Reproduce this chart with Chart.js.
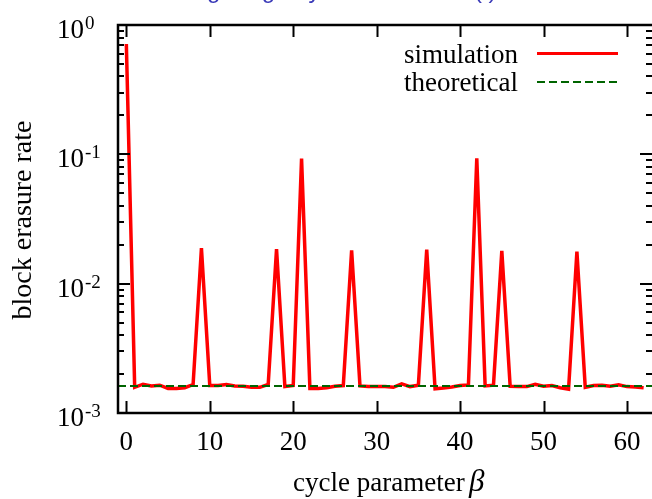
<!DOCTYPE html>
<html>
<head>
<meta charset="utf-8">
<script src="https://cdn.jsdelivr.net/npm/chart.js@4"></script>
<style>
  html, body { margin: 0; padding: 0; background: #fff; }
  #wrap { width: 652px; height: 499px; position: relative; }
</style>
</head>
<body>
<div id="wrap"><canvas id="erasureChart"></canvas></div>
<script>
// block erasure rate vs cycle parameter beta (beta = 0..62)
const simulation = [
  0.713, 0.00158, 0.00167, 0.00162, 0.00164, 0.00155, 0.00155, 0.00157, 0.00166, 0.0188,
  0.00163, 0.00163, 0.00166, 0.00162, 0.00161, 0.00158, 0.00158, 0.00166, 0.0185, 0.00160,
  0.00163, 0.0927, 0.00155, 0.00155, 0.00157, 0.00161, 0.00163, 0.0181, 0.00162, 0.00160,
  0.00160, 0.00160, 0.00158, 0.00168, 0.00160, 0.00164, 0.0183, 0.00154, 0.00156, 0.00159,
  0.00163, 0.00165, 0.0930, 0.00162, 0.00164, 0.0179, 0.00161, 0.00160, 0.00160, 0.00167,
  0.00161, 0.00163, 0.00157, 0.00153, 0.0177, 0.00158, 0.00163, 0.00164, 0.00161, 0.00165,
  0.00160, 0.00159, 0.00157
];
const betas = Array.from({ length: simulation.length }, (_, i) => i);
const theoreticalX = [-1, 63];
const theoreticalY = [0.00162, 0.00162];

const xTicks = [0, 10, 20, 30, 40, 50, 60];
const yDecades = [-3, -2, -1, 0];

const SERIF = '"Liberation Serif", "DejaVu Serif", serif';
const RED = '#ff0000';
const GREEN = '#006400';

// gnuplot-style frame: inward ticks on all sides, labels, legend, titles
const framePlugin = {
  id: 'frame',
  afterDraw(chart) {
    const { ctx, chartArea: a, scales: { x, y } } = chart;
    ctx.save();
    ctx.strokeStyle = '#000';
    ctx.fillStyle = '#000';
    ctx.lineWidth = 2;

    // ticks
    ctx.beginPath();
    xTicks.forEach(v => {
      const px = Math.round(x.getPixelForValue(v)) + 0.5;
      ctx.moveTo(px, a.bottom); ctx.lineTo(px, a.bottom - 12);
      ctx.moveTo(px, a.top); ctx.lineTo(px, a.top + 12);
    });
    yDecades.forEach(d => {
      for (let k = 1; k <= 9; k++) {
        if (d === 0 && k > 1) break;
        const py = Math.round(y.getPixelForValue(k * Math.pow(10, d)));
        const len = k === 1 ? 12 : 6;
        ctx.moveTo(a.left, py); ctx.lineTo(a.left + len, py);
        ctx.moveTo(a.right, py); ctx.lineTo(a.right - len, py);
      }
    });
    ctx.stroke();

    // border
    ctx.lineWidth = 2.5;
    ctx.strokeRect(a.left, a.top, a.right - a.left + 2, a.bottom - a.top);

    // x tick labels
    ctx.font = '27px ' + SERIF;
    ctx.textAlign = 'center';
    ctx.textBaseline = 'alphabetic';
    xTicks.forEach(v => ctx.fillText(String(v), x.getPixelForValue(v), 450));

    // y tick labels 10^d
    yDecades.forEach(d => {
      const py = y.getPixelForValue(Math.pow(10, d));
      ctx.font = '27px ' + SERIF;
      ctx.textAlign = 'right';
      ctx.fillText('10', 84, py + 13);
      ctx.font = '19px ' + SERIF;
      ctx.textAlign = 'left';
      ctx.fillText(d === 0 ? '0' : '-' + (-d), 85, py + 4);
    });

    // axis titles
    ctx.font = '27px ' + SERIF;
    ctx.textAlign = 'left';
    ctx.fillText('cycle parameter', 293, 491);
    ctx.font = 'italic 31px ' + SERIF;
    ctx.fillText('\u03B2', 469, 491);

    ctx.save();
    ctx.translate(31, 220);
    ctx.rotate(-Math.PI / 2);
    ctx.font = '28px ' + SERIF;
    ctx.textAlign = 'center';
    ctx.fillText('block erasure rate', 0, 0);
    ctx.restore();

    // legend
    ctx.font = '27px ' + SERIF;
    ctx.textAlign = 'right';
    ctx.fillText('simulation', 518, 63);
    ctx.fillText('theoretical', 518, 91);
    ctx.lineWidth = 3;
    ctx.strokeStyle = RED;
    ctx.beginPath(); ctx.moveTo(537, 53.5); ctx.lineTo(618, 53.5); ctx.stroke();
    ctx.lineWidth = 2;
    ctx.strokeStyle = GREEN;
    ctx.setLineDash([8, 4]);
    ctx.beginPath(); ctx.moveTo(537, 82); ctx.lineTo(618, 82); ctx.stroke();
    ctx.setLineDash([]);

    // title (mostly above the visible area)
    ctx.font = '24px "Liberation Sans", sans-serif';
    ctx.fillStyle = '#3a3ab8';
    ctx.textAlign = 'left';
    ctx.fillText('Long range by erasure code (t)', 167, -2.5);

    ctx.restore();
  }
};

const ctx = document.getElementById('erasureChart').getContext('2d');
new Chart(ctx, {
  type: 'line',
  data: {
    datasets: [
      {
        label: 'simulation',
        data: betas.map((b, i) => ({ x: b, y: simulation[i] })),
        borderColor: RED, borderWidth: 3.5, pointRadius: 0, tension: 0, order: 1
      },
      {
        label: 'theoretical',
        data: theoreticalX.map((b, i) => ({ x: b, y: theoreticalY[i] })),
        borderColor: GREEN, borderWidth: 2, borderDash: [8, 4], pointRadius: 0, order: 0
      }
    ]
  },
  options: {
    responsive: true, maintainAspectRatio: false, animation: false,
    layout: { padding: { left: 118, top: 25, right: 0, bottom: 86 } },
    plugins: { legend: { display: false }, tooltip: { enabled: false } },
    scales: {
      x: { type: 'linear', min: -1, max: 63, display: false },
      y: { type: 'logarithmic', min: 0.001, max: 1, display: false }
    }
  },
  plugins: [framePlugin]
});
</script>
</body>
</html>
